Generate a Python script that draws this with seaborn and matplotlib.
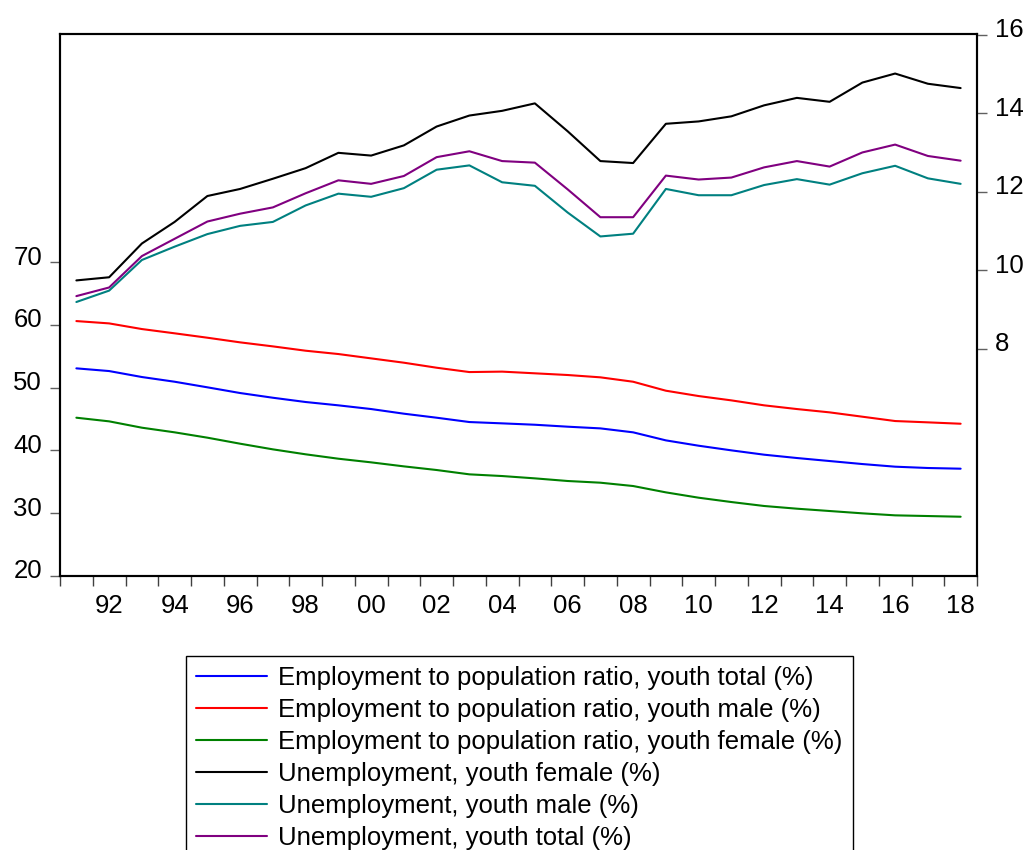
import numpy as np
import pandas as pd
import matplotlib
matplotlib.use("Agg")
import matplotlib.pyplot as plt
import matplotlib.transforms as mtransforms
from matplotlib.ticker import FixedLocator
import seaborn as sns

# ---- data -------------------------------------------------------------
years = list(range(1991, 2019))

# Employment to population ratio (left axis, %)
emp_total = [53.07, 52.64, 51.69, 50.94, 50.05, 49.14, 48.39, 47.71, 47.18, 46.59,
             45.85, 45.21, 44.52, 44.31, 44.09, 43.78, 43.51, 42.88, 41.60, 40.75,
             40.01, 39.32, 38.79, 38.31, 37.83, 37.41, 37.20, 37.09]
emp_male = [60.60, 60.23, 59.33, 58.65, 57.95, 57.21, 56.57, 55.88, 55.35, 54.66,
            53.97, 53.17, 52.48, 52.55, 52.28, 52.01, 51.64, 50.94, 49.51, 48.66,
            47.97, 47.18, 46.59, 46.06, 45.37, 44.68, 44.47, 44.25]
emp_female = [45.21, 44.63, 43.62, 42.88, 42.03, 41.07, 40.17, 39.38, 38.68, 38.10,
              37.46, 36.88, 36.19, 35.92, 35.55, 35.13, 34.86, 34.33, 33.32, 32.47,
              31.78, 31.15, 30.72, 30.35, 29.98, 29.66, 29.55, 29.44]

# Youth unemployment (right axis, %)
unemp_female = [9.74, 9.82, 10.68, 11.23, 11.89, 12.07, 12.33, 12.60, 12.99, 12.92,
                13.18, 13.66, 13.94, 14.06, 14.25, 13.54, 12.78, 12.73, 13.73, 13.79,
                13.92, 14.20, 14.39, 14.29, 14.78, 15.01, 14.75, 14.64]
unemp_male = [9.19, 9.48, 10.26, 10.60, 10.92, 11.13, 11.23, 11.65, 11.95, 11.87,
              12.09, 12.56, 12.67, 12.24, 12.15, 11.47, 10.86, 10.93, 12.07, 11.91,
              11.91, 12.17, 12.32, 12.18, 12.47, 12.66, 12.34, 12.20]
unemp_total = [9.34, 9.56, 10.36, 10.80, 11.24, 11.44, 11.60, 11.96, 12.29, 12.20,
               12.40, 12.88, 13.03, 12.78, 12.74, 12.06, 11.35, 11.35, 12.41, 12.31,
               12.36, 12.62, 12.78, 12.64, 13.00, 13.20, 12.91, 12.79]

left_series = [
    ("Employment to population ratio, youth total (%)", emp_total, "#0000ff"),
    ("Employment to population ratio, youth male (%)", emp_male, "#ff0000"),
    ("Employment to population ratio, youth female (%)", emp_female, "#008000"),
]
right_series = [
    ("Unemployment, youth female (%)", unemp_female, "#000000"),
    ("Unemployment, youth male (%)", unemp_male, "#008080"),
    ("Unemployment, youth total (%)", unemp_total, "#800080"),
]

left_ticks = [20, 30, 40, 50, 60, 70]
right_ticks = [8, 10, 12, 14, 16]
label_years = list(range(1992, 2019, 2))
year_labels = [f"{y % 100:02d}" for y in label_years]

# ---- style ------------------------------------------------------------
sns.set_style("white")
plt.rcParams["font.family"] = ["Liberation Sans", "DejaVu Sans"]
plt.rcParams["text.color"] = "black"

fig = plt.figure(figsize=(10.28, 8.5), dpi=100)
W, H = 1028, 850
ax = fig.add_axes([60 / W, 1 - 576 / H, (977 - 60) / W, (576 - 33.5) / H])
ax2 = ax.twinx()

handles = []
for name, vals, col in left_series:
    df = pd.DataFrame({"year": years, "value": vals})
    sns.lineplot(data=df, x="year", y="value", ax=ax, color=col, linewidth=1.5,
                 label=name, legend=False)
    handles.append(ax.lines[-1])
for name, vals, col in right_series:
    df = pd.DataFrame({"year": years, "value": vals})
    sns.lineplot(data=df, x="year", y="value", ax=ax2, color=col, linewidth=1.5,
                 label=name, legend=False)
    handles.append(ax2.lines[-1])

ax.set_xlim(1990.5, 2018.5)
ax.set_ylim(20, 106.4)
ax2.set_ylim(2.21, 16.03)

for a in (ax, ax2):
    a.set_xlabel("")
    a.set_ylabel("")
    for sp in a.spines.values():
        sp.set_visible(True)
        sp.set_color("black")
        sp.set_linewidth(1.5)

# x axis: year boundaries get tick marks, even years get labels
ax.xaxis.set_major_locator(FixedLocator(label_years))
ax.set_xticklabels(year_labels)
ax.xaxis.set_minor_locator(FixedLocator(np.arange(1990.5, 2019.0, 1.0)))
ax.tick_params(axis="x", which="major", length=0, pad=13, labelsize=18.5,
               labelcolor="black")
ax.tick_params(axis="x", which="minor", length=7, width=1.0, color="#404040",
               direction="out", bottom=True)

# y axes
ax.set_yticks(left_ticks)
ax.set_yticklabels([str(t) for t in left_ticks])
ax.tick_params(axis="y", which="major", length=7, width=1.0, color="#606060",
               direction="out", left=True, pad=6, labelsize=18.5, labelcolor="black")
ax2.set_yticks(right_ticks)
ax2.set_yticklabels([str(t) for t in right_ticks])
ax2.tick_params(axis="y", which="major", length=7, width=1.0, color="#606060",
                direction="out", right=True, pad=6, labelsize=18.5, labelcolor="black")

# y tick labels sit slightly above their tick marks
shift = mtransforms.ScaledTranslation(0, 7 / 100, fig.dpi_scale_trans)
for lab in ax.get_yticklabels() + ax2.get_yticklabels():
    lab.set_transform(lab.get_transform() + shift)

ax.grid(False)
ax2.grid(False)

leg = fig.legend(handles=handles, labels=[h.get_label() for h in handles],
                 loc="upper left", bbox_to_anchor=(186 / W, 1 - 656 / H),
                 bbox_transform=fig.transFigure, fontsize=18.5, frameon=True,
                 fancybox=False, edgecolor="black", framealpha=1,
                 handlelength=2.76, handletextpad=0.42, labelspacing=0.31,
                 borderpad=0.4, borderaxespad=0)
leg.get_frame().set_linewidth(1.0)
for t in leg.get_texts():
    t.set_color("black")

fig.savefig("out.png", dpi=100, facecolor="white")
